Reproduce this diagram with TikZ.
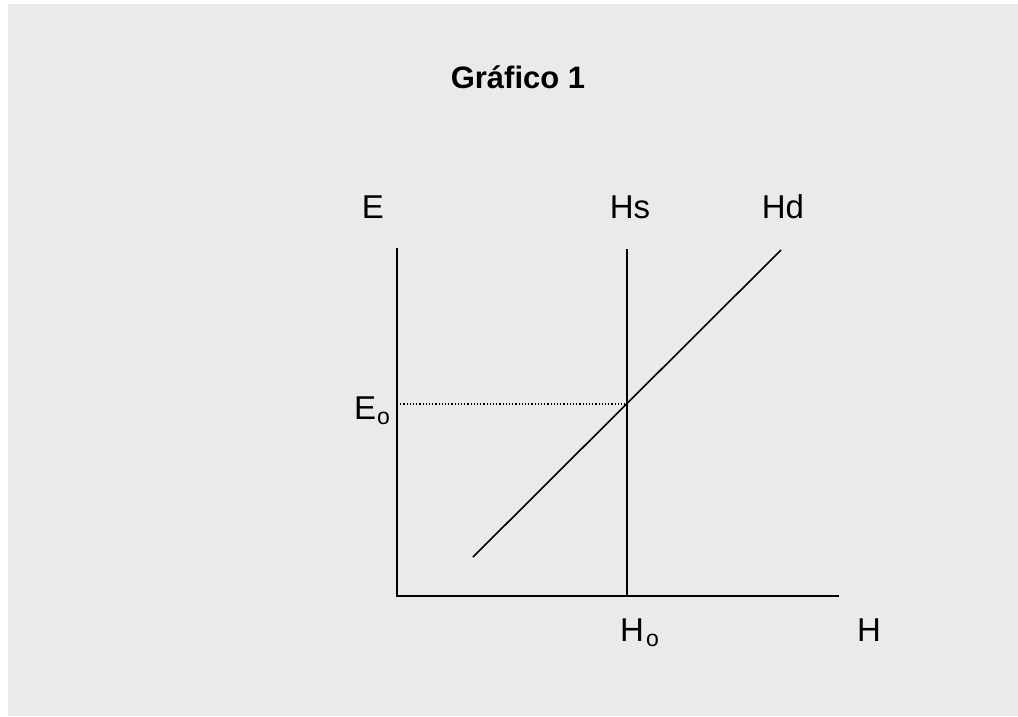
\documentclass[tikz,border=0pt]{standalone}
\usepackage{fontspec}
\setmainfont{Liberation Sans}
\definecolor{bg}{HTML}{EAEAEA}
\newcommand{\subo}{\raisebox{-5pt}{\fontsize{23}{28}\selectfont o}}
\begin{document}
\begin{tikzpicture}[x=1pt,y=-1pt,
  lbl/.style={inner sep=0pt,font=\fontsize{33}{39}\selectfont},
  ttl/.style={inner sep=0pt,font=\fontsize{31}{37}\selectfont\bfseries},
  ln/.style={line width=1.6pt,black}]
\useasboundingbox (0,0) rectangle (1018,716);
\fill[bg] (8,4) rectangle (1018,716);
\node[ttl,anchor=base] (title) at (518,88) {Gráfico 1};
\coordinate (Etop) at (397,249);
\coordinate (O) at (397,596);
\coordinate (Hend) at (838,596);
\coordinate (Hstop) at (627,249);
\coordinate (Hsbot) at (627,596);
\coordinate (Hdbot) at (473,557);
\coordinate (Hdtop) at (781,250);
\coordinate (Eq) at (627,404);
\coordinate (Eax) at (397,404);
\draw[ln,line cap=rect] (Etop) -- (O) -- (Hend);
\draw[ln] (Hstop) -- (Hsbot);
\draw[ln] (Hdbot) -- (Hdtop);
\draw[line width=1.2pt,dotted] (Eax) -- (Eq);
\node[lbl,anchor=base] (E) at (373,218) {E};
\node[lbl,anchor=base] (Hs) at (630,218) {Hs};
\node[lbl,anchor=base] (Hd) at (783,218) {Hd};
\node[lbl,anchor=base west] (Eo) at (354,419) {E\kern1pt\subo};
\node[lbl,anchor=base west] (Ho) at (620,641) {H\kern2pt\subo};
\node[lbl,anchor=base] (H) at (869,641) {H};
\end{tikzpicture}
\end{document}
